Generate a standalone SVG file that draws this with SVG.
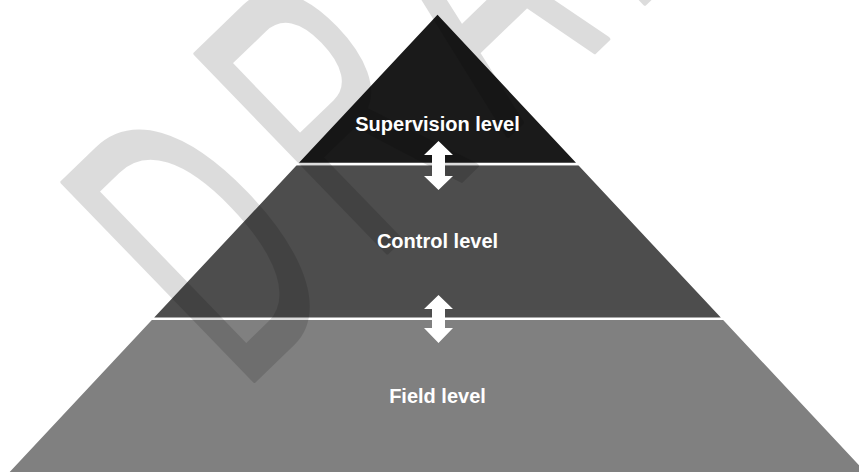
<svg xmlns="http://www.w3.org/2000/svg" width="859" height="472" viewBox="0 0 859 472">
  <style>
    .layer { stroke: #ffffff; stroke-width: 2.5; stroke-linejoin: miter; }
    .label { font-family: "Liberation Sans", Arial, sans-serif; font-weight: bold; font-size: 20px; fill: #ffffff; text-anchor: middle; }
    .arrow { fill: #ffffff; stroke: none; }
    .wm { font-family: "Liberation Sans", Arial, sans-serif; font-size: 400px; fill: #000000; stroke: #000000; stroke-width: 5; stroke-linejoin: round; letter-spacing: 60px; }
  </style>
  <rect x="0" y="0" width="859" height="472" fill="#ffffff"/>
  <g id="field-level">
    <polygon class="layer" fill="#808080" points="151.4,318.7 723.6,318.7 874.5,480 0.5,480"/>
  </g>
  <g id="control-level">
    <polygon class="layer" fill="#4d4d4d" points="296.2,164 578.8,164 723.6,318.7 151.4,318.7"/>
  </g>
  <g id="supervision-level">
    <polygon class="layer" fill="#1a1a1a" points="437.5,13 578.8,164 296.2,164"/>
  </g>
  <g id="watermark" opacity="0.135">
    <text class="wm" transform="translate(241,393) rotate(-44) scale(0.53,1)" x="0" y="0">DRAFT</text>
  </g>
  <g id="connectors">
    <polygon class="arrow" points="438.5,141 453,155 445,155 445,176 453,176 438.5,190 424,176 432,176 432,155 424,155"/>
    <polygon class="arrow" points="438.5,295 453,309 445,309 445,328 453,328 438.5,343 424,328 432,328 432,309 424,309"/>
  </g>
  <g id="labels">
    <text class="label" x="437.5" y="131">Supervision level</text>
    <text class="label" x="437.5" y="248">Control level</text>
    <text class="label" x="437.5" y="403">Field level</text>
  </g>
</svg>
